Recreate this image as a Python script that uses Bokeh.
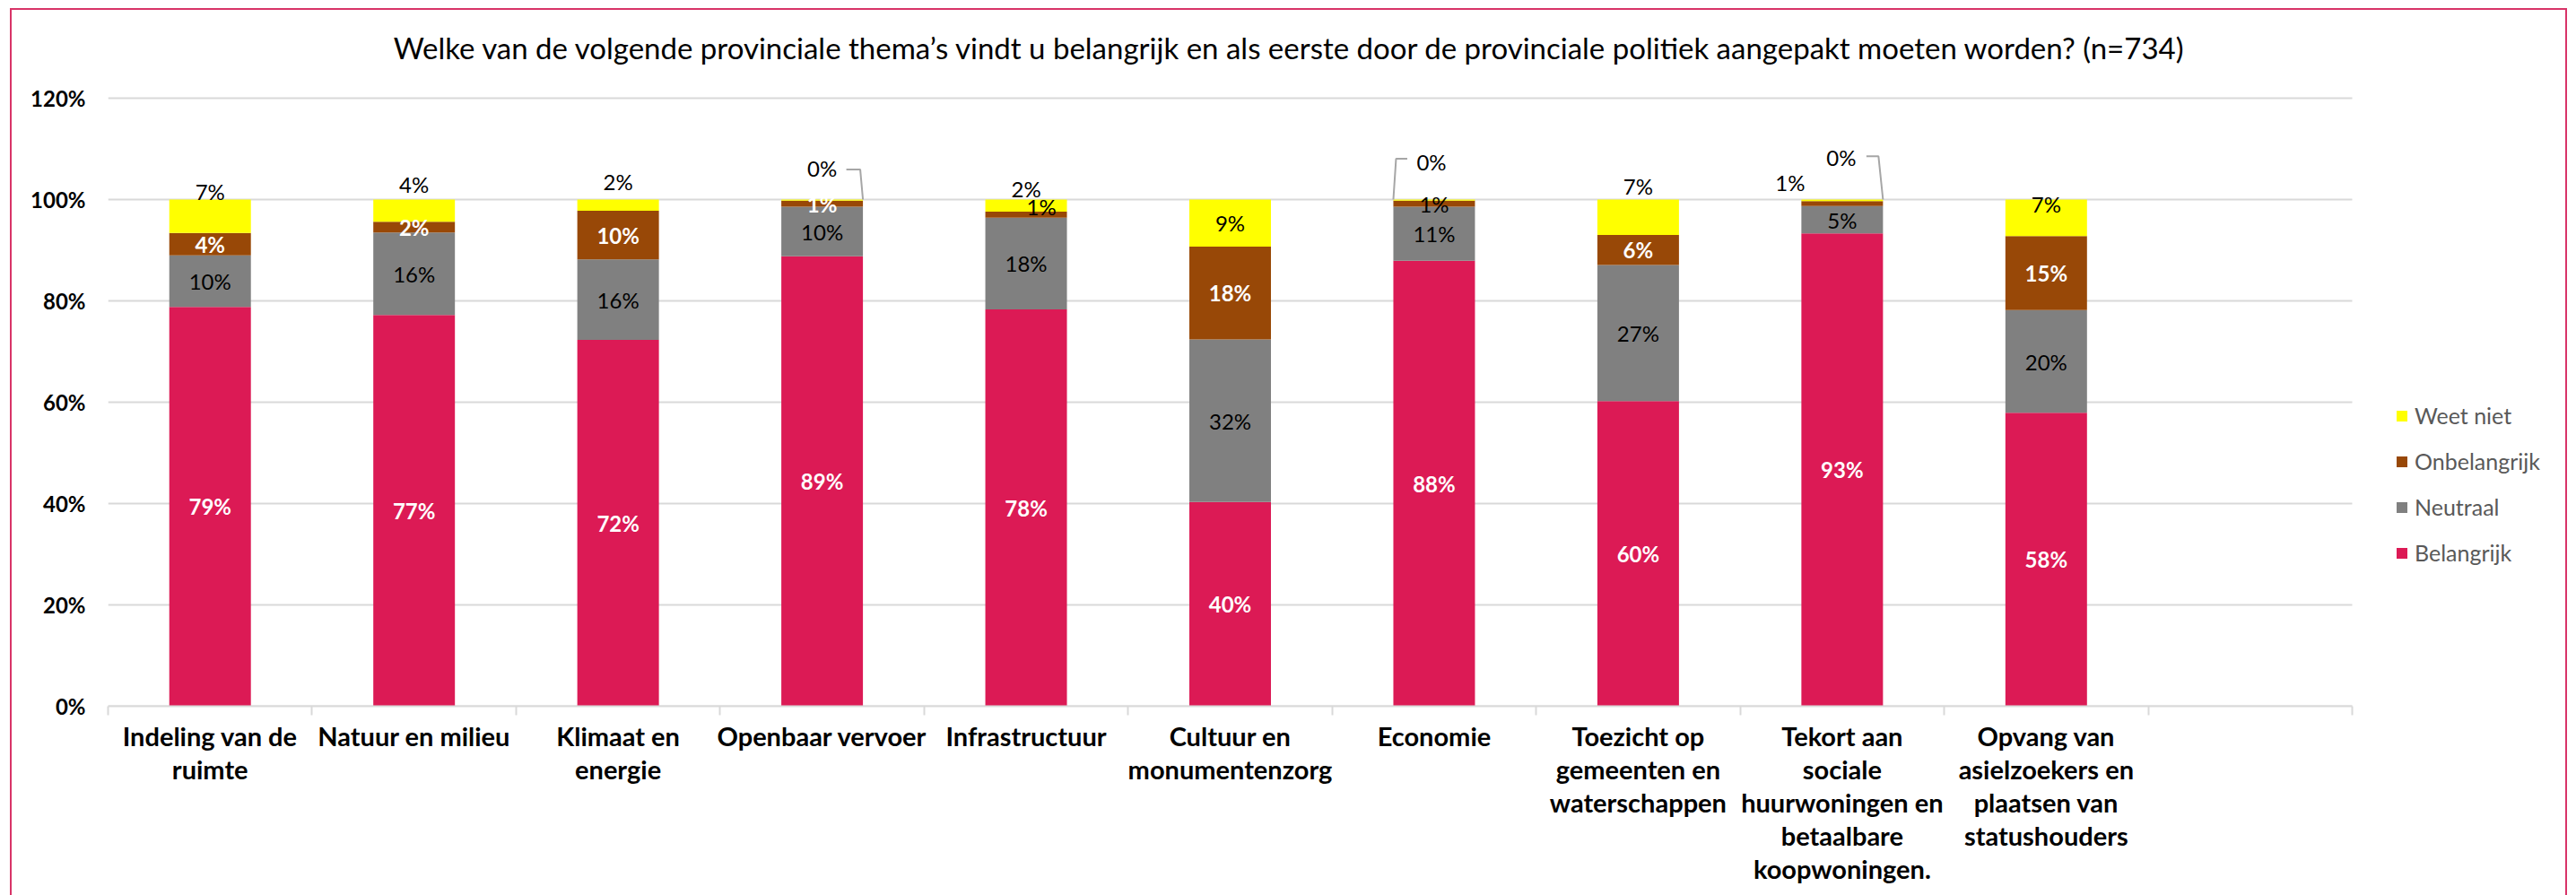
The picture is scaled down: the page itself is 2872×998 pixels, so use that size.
from bokeh.plotting import figure
from bokeh.models import (ColumnDataSource, Range1d, FixedTicker, Legend, LegendItem,
                          PrintfTickFormatter)
from bokeh.core.properties import value
from bokeh.embed import file_html
from bokeh.resources import INLINE

# ---------------- data ----------------
title_text = ("Welke van de volgende provinciale thema’s vindt u belangrijk en als eerste "
              "door de provinciale politiek aangepakt moeten worden? (n=734)")
categories = [
    "Indeling van de\nruimte",
    "Natuur en milieu",
    "Klimaat en\nenergie",
    "Openbaar vervoer",
    "Infrastructuur",
    "Cultuur en\nmonumentenzorg",
    "Economie",
    "Toezicht op\ngemeenten en\nwaterschappen",
    "Tekort aan\nsociale\nhuurwoningen en\nbetaalbare\nkoopwoningen.",
    "Opvang van\nasielzoekers en\nplaatsen van\nstatushouders",
]
series_names = ["Belangrijk", "Neutraal", "Onbelangrijk", "Weet niet"]
belangrijk = [78.8, 77.2, 72.3, 88.8, 78.3, 40.3, 87.9, 60.2, 93.3, 57.9]
neutraal = [10.2, 16.3, 15.9, 9.8, 18.1, 32.1, 10.7, 26.9, 5.4, 20.3]
onbelangrijk = [4.4, 2.1, 9.6, 1.2, 1.2, 18.3, 1.2, 5.9, 1.0, 14.6]
weet_niet = [6.6, 4.4, 2.2, 0.2, 2.4, 9.3, 0.2, 7.0, 0.3, 7.2]
y_ticks = [0, 20, 40, 60, 80, 100, 120]
n_slots = 11  # ten themes plus one empty slot at the end

colors = ["#DC1A55", "#808080", "#984807", "#FFFF00"]
label_colors = ["white", "black", "white", "black"]

# ---------------- layout (canvas pixels) ----------------
OX, OY = 13, 11             # figure offset on the page (room for the pink frame line)
W, H = 2860 - OX, 998 - OY
FL, FB = 120 - OX, 787 - OY          # frame left / frame bottom (0%)
AX_R, AX_T = 2622 - OX, 109 - OY     # end of category axis / height of 120%
FR, FT = W - 8, 4                    # real frame edges (title and legend live inside)
PX_X = (AX_R - FL) / n_slots
PX_Y = (FB - AX_T) / 120.0
X_MAX = (FR - FL) / PX_X
Y_MAX = (FB - FT) / PX_Y
BAR_W = 0.4

FONT = "Lato"

x = [i + 0.5 for i in range(len(categories))]
keys = ["belangrijk", "neutraal", "onbelangrijk", "weet_niet"]
data = dict(x=x, belangrijk=belangrijk, neutraal=neutraal,
            onbelangrijk=onbelangrijk, weet_niet=weet_niet)
src = ColumnDataSource(data)

p = figure(width=W, height=H, x_range=Range1d(0, X_MAX), y_range=Range1d(0, Y_MAX),
           output_backend="svg", toolbar_location=None,
           min_border_left=FL, min_border_right=W - FR,
           min_border_top=FT, min_border_bottom=H - FB)
p.outline_line_color = None
p.background_fill_color = "white"
p.border_fill_color = "white"
p.styles = {"outline": "2.5px solid #D83468", "outline-offset": "0px",
            "margin-left": f"{OX}px", "margin-top": f"{OY}px"}

# horizontal gridlines, only over the category area
p.segment(x0=0, x1=n_slots, y0=y_ticks, y1=y_ticks, line_color="#D9D9D9", line_width=2)

rs = p.vbar_stack(keys, x="x", width=BAR_W, fill_color=colors, line_color=None, source=src)

# ---------------- axes ----------------
xa = p.xaxis[0]
xa.bounds = (0, n_slots)
xa.ticker = FixedTicker(ticks=x, minor_ticks=[float(i) for i in range(n_slots + 1)])
xa.major_label_overrides = {xi: lab for xi, lab in zip(x, categories)}
xa.major_tick_out = 0
xa.major_tick_in = 0
xa.minor_tick_out = 10
xa.minor_tick_in = 0
xa.minor_tick_line_color = "#D9D9D9"
xa.minor_tick_line_width = 2
xa.axis_line_color = "#D9D9D9"
xa.axis_line_width = 2
xa.major_label_text_font = FONT
xa.major_label_text_font_size = "29px"
xa.major_label_text_font_style = "bold"
xa.major_label_text_color = "#000000"
xa.major_label_text_line_height = 1.06
xa.major_label_standoff = 5

ya = p.yaxis[0]
ya.ticker = FixedTicker(ticks=y_ticks)
ya.formatter = PrintfTickFormatter(format="%d%%")
ya.axis_line_color = None
ya.major_tick_out = 0
ya.major_tick_in = 0
ya.minor_tick_line_color = None
ya.major_label_text_font = FONT
ya.major_label_text_font_size = "24px"
ya.major_label_text_font_style = "bold"
ya.major_label_text_color = "#000000"
ya.major_label_standoff = 25

p.xgrid.visible = False
p.ygrid.visible = False

# ---------------- title (inside the frame) ----------------
p.text(x=[(1438 - OX - FL) / PX_X], y=[(FB - (52 - OY)) / PX_Y], text=[title_text],
       text_align="center", text_baseline="middle", text_color="#000000",
       text_font=value(FONT), text_font_size="33px", text_font_style="normal")

# ---------------- data labels ----------------
# pixel nudges for labels that were moved off their segment: (series, bar): (dx, dy, colour)
nudges = {
    (3, 0): (0, -28, None),
    (3, 1): (0, -29, None),
    (3, 2): (0, -26, None),
    (3, 3): (0, -36, None),
    (3, 4): (0, -19, None),
    (2, 4): (17, -9, "black"),
    (3, 6): (-3, -43, None),
    (2, 6): (0, 0, "black"),
    (3, 7): (0, -35, None),
    (3, 8): (-1, -48, None),
    (2, 8): (-58, -24, "black"),
    (3, 9): (0, -15, None),
}

def px2d(xd, yd, dx, dy):
    return xd + dx / PX_X, yd - dy / PX_Y

series_vals = [belangrijk, neutraal, onbelangrijk, weet_niet]
lab = {"white": dict(x=[], y=[], t=[]), "black": dict(x=[], y=[], t=[])}
label_pos = {}
for b in range(len(categories)):
    base = 0.0
    for s, vals in enumerate(series_vals):
        v = vals[b]
        mid = base + v / 2.0
        dx, dy, col = nudges.get((s, b), (0, 0, None))
        col = col or label_colors[s]
        lx, ly = px2d(x[b], mid, dx, dy)
        label_pos[(s, b)] = (lx, ly)
        lab[col]["x"].append(lx)
        lab[col]["y"].append(ly)
        lab[col]["t"].append(f"{round(v)}%")
        base += v

p.text(x=lab["white"]["x"], y=lab["white"]["y"], text=lab["white"]["t"],
       text_align="center", text_baseline="middle", text_color="white",
       text_font=value(FONT), text_font_size="24px", text_font_style="bold")
p.text(x=lab["black"]["x"], y=lab["black"]["y"], text=lab["black"]["t"],
       text_align="center", text_baseline="middle", text_color="black",
       text_font=value(FONT), text_font_size="24px", text_font_style="normal")

# leader lines for the moved 0% labels: (bar, side, start dx, start dy, corner inset)
leaders = [(3, +1, 27, 2, -3), (6, -1, -27, -3, 3), (8, +1, 28, -1, -5)]
lxs, lys = [], []
for b, side, sdx, sdy, inset in leaders:
    lx, ly = label_pos[(3, b)]
    top = sum(vals[b] for vals in series_vals)
    cx = x[b] + side * BAR_W / 2
    x0, y0 = px2d(lx, ly, sdx, sdy)
    x1, y1 = px2d(cx, ly, inset, sdy)
    lxs.append([x0, x1, cx])
    lys.append([y0, y0, top])
p.multi_line(xs=lxs, ys=lys, line_color="#A6A6A6", line_width=2)

# ---------------- legend (inside the frame, right of the axis) ----------------
items = [LegendItem(label=series_names[i], renderers=[rs[i]]) for i in [3, 2, 1, 0]]
legend = Legend(items=items, location=(AX_R - FL + 48, 156), margin=0, padding=0,
                border_line_color=None, background_fill_alpha=0,
                spacing=21, label_height=24, glyph_height=15, glyph_width=15,
                label_standoff=7, label_text_font=FONT, label_text_font_size="25px",
                label_text_color="#595959")
p.add_layout(legend)

open("out.html", "w").write(file_html(p, INLINE))
